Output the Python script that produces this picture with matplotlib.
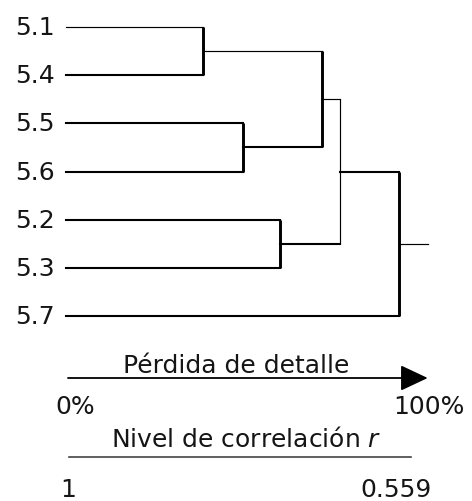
import matplotlib
matplotlib.use("Agg")
import matplotlib.pyplot as plt
from matplotlib.patches import FancyArrowPatch

# leaves in drawing order (top to bottom)
labels = ['5.1', '5.4', '5.5', '5.6', '5.2', '5.3', '5.7']
# merges: node ids 0..6 are leaves, merge k creates node 7+k
merge_a = [0, 2, 4, 7, 10, 11]
merge_b = [1, 3, 5, 8, 9, 6]
merge_r = [0.819, 0.766, 0.717, 0.661, 0.637, 0.559]   # correlation level r

r_max = 1.0
r_min = 0.559
axis_top = ['0%', '100%']
axis_bottom = ['1', '0.559']
title_top = 'Pérdida de detalle'
title_bottom = 'Nivel de correlación $r$'

# styles
thin_links = {0, 7, 10}     # horizontal branch from these nodes drawn thin
thin_vert = {11}
horiz_lw, vert_lw, thin = 1.5, 2.1, 0.85
stem_len = 0.038
fs = 18
ink = '#151515'

plt.rcParams['font.family'] = ['DejaVu Sans']
plt.rcParams['mathtext.fontset'] = 'dejavusans'

W, H = 472, 502
fig = plt.figure(figsize=(W / 100, H / 100), dpi=100)
ax = fig.add_axes([0, 0, 1, 1])
px_r = (r_max - r_min) / 333.0
ax.set_xlim(r_max + 66 * px_r, r_max - 406 * px_r)
row = 48.17
ax.set_ylim((H - 28) / row, -28 / row)
ax.axis('off')

# node positions
node_y = {i: float(i) for i in range(len(labels))}
node_r = {i: r_max for i in range(len(labels))}
for k, (a, b, r) in enumerate(zip(merge_a, merge_b, merge_r)):
    n = len(labels) + k
    node_y[n] = (node_y[a] + node_y[b]) / 2
    node_r[n] = r
    for c in (a, b):
        lw = thin if c in thin_links else horiz_lw
        ax.plot([node_r[c], r], [node_y[c], node_y[c]], color='black', lw=lw,
                solid_capstyle='projecting')
    lw = thin if n in thin_vert else vert_lw
    ax.plot([r, r], [node_y[a], node_y[b]], color='black', lw=lw,
            solid_capstyle='butt')

root = len(labels) + len(merge_r) - 1
ax.plot([node_r[root], node_r[root] - stem_len], [node_y[root]] * 2,
        color='black', lw=thin)

for i, lab in enumerate(labels):
    ax.annotate(lab, (r_max, i), xytext=(-8, 0), textcoords='offset points',
                ha='right', va='center', fontsize=fs, color=ink)

# bottom scales (x in r units from pixel offsets, y as figure fraction)
tr = ax.get_xaxis_transform()


def xr(px):
    return r_max - (px - 66) * px_r


def yf(px):
    return 1 - px / H


arrow = FancyArrowPatch((xr(68), yf(379)), (r_min - stem_len, yf(379)),
                        transform=tr, arrowstyle='-|>,head_length=1.7,head_width=0.8',
                        mutation_scale=10, color='black', lw=1.3,
                        shrinkA=0, shrinkB=0)
ax.add_patch(arrow)
ax.text(xr(236), yf(373), title_top, transform=tr,
        ha='center', va='baseline', fontsize=fs, color=ink)
ax.text(xr(55), yf(414), axis_top[0], transform=tr,
        ha='left', va='baseline', fontsize=fs, color=ink)
ax.text(xr(465), yf(414), axis_top[1], transform=tr,
        ha='right', va='baseline', fontsize=fs, color=ink)

ax.plot([xr(69), xr(411)], [yf(458)] * 2, transform=tr,
        color='#444444', lw=1.2)
ax.text(xr(246), yf(447), title_bottom, transform=tr,
        ha='center', va='baseline', fontsize=fs, color=ink)
ax.text(xr(60), yf(497), axis_bottom[0], transform=tr,
        ha='left', va='baseline', fontsize=fs, color=ink)
ax.text(xr(432), yf(497), axis_bottom[1], transform=tr,
        ha='right', va='baseline', fontsize=fs, color=ink)

fig.savefig('out.png', dpi=100)
